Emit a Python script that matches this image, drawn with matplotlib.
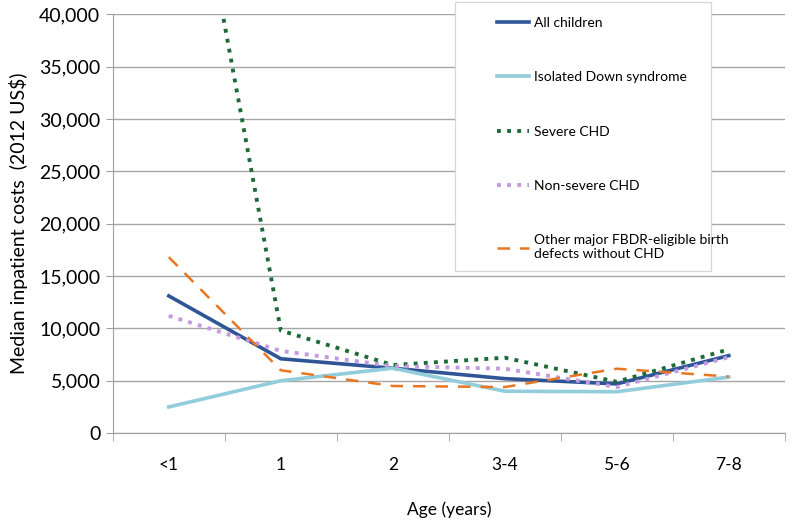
import numpy as np
from matplotlib import pyplot as plt
from matplotlib.patches import Rectangle

plt.rcParams['font.family'] = ['Lato', 'DejaVu Sans']

ages = ["<1", "1", "2", "3-4", "5-6", "7-8"]
all_children = [13100, 7100, 6200, 5200, 4700, 7400]
down_syndrome = [2500, 5000, 6200, 4000, 3950, 5350]
severe_chd = [68000, 9800, 6500, 7200, 4900, 8000]
non_severe_chd = [11200, 7850, 6400, 6150, 4400, 7250]
other_defects = [16800, 6000, 4500, 4400, 6150, 5400]

labels = ["All children", "Isolated Down syndrome", "Severe CHD", "Non-severe CHD",
          "Other major FBDR-eligible birth\ndefects without CHD"]

fig = plt.figure(figsize=(8, 5.25), dpi=100)
ax = fig.add_axes([0.141, 0.175, 0.84, 0.798])

x = np.arange(len(ages))
ax.plot(x, all_children, color="#2F5597", lw=2.6, label=labels[0])
ax.plot(x, down_syndrome, color="#92CDDC", lw=2.6, label=labels[1])
ax.plot(x, severe_chd, color="#1E6B3A", lw=2.8, ls=(0, (1, 1.6)), label=labels[2])
ax.plot(x, non_severe_chd, color="#C49AE0", lw=2.8, ls=(0, (1, 1.6)), label=labels[3])
ax.plot(x, other_defects, color="#E87722", lw=1.8, ls=(0, (5, 4)), label=labels[4])

ax.set_xlim(-0.5, len(ages) - 0.5)
ax.set_ylim(0, 40000)
ax.set_yticks(np.arange(0, 40001, 5000))
ax.set_yticklabels([f"{v:,}" for v in range(0, 40001, 5000)], fontsize=14)
ax.set_xticks(x)
ax.set_xticklabels(ages, fontsize=12.5)
ax.set_xticks(np.arange(-0.5, len(ages)), minor=True)
ax.tick_params(axis="x", which="major", length=0, pad=17)
ax.tick_params(axis="x", which="minor", length=6, color="#A0A0A0")
ax.tick_params(axis="y", length=5, color="#A0A0A0", pad=4)
ax.grid(axis="y", color="#A6A6A6", lw=1)
ax.set_axisbelow(True)
for s in ["top", "right"]:
    ax.spines[s].set_visible(False)
for s in ["left", "bottom"]:
    ax.spines[s].set_color("#A0A0A0")

ax.set_ylabel("Median inpatient costs  (2012 US$)", fontsize=14, labelpad=8)
ax.set_xlabel("Age (years)", fontsize=12.5, labelpad=21)

# legend box
fig.patches.append(Rectangle((455 / 800, 1 - 271 / 525), 256 / 800, 269 / 525,
                             transform=fig.transFigure, facecolor="white",
                             edgecolor="#D6D6D6", lw=0.9, zorder=3))
leg = fig.legend(loc="upper left", bbox_to_anchor=(490 / 800, 1 - 10 / 525), fontsize=10,
                 handlelength=2.3, handletextpad=0.35, labelspacing=3.05,
                 borderpad=0, frameon=False)
leg.set_zorder(4)

plt.savefig("out.png", dpi=100)
